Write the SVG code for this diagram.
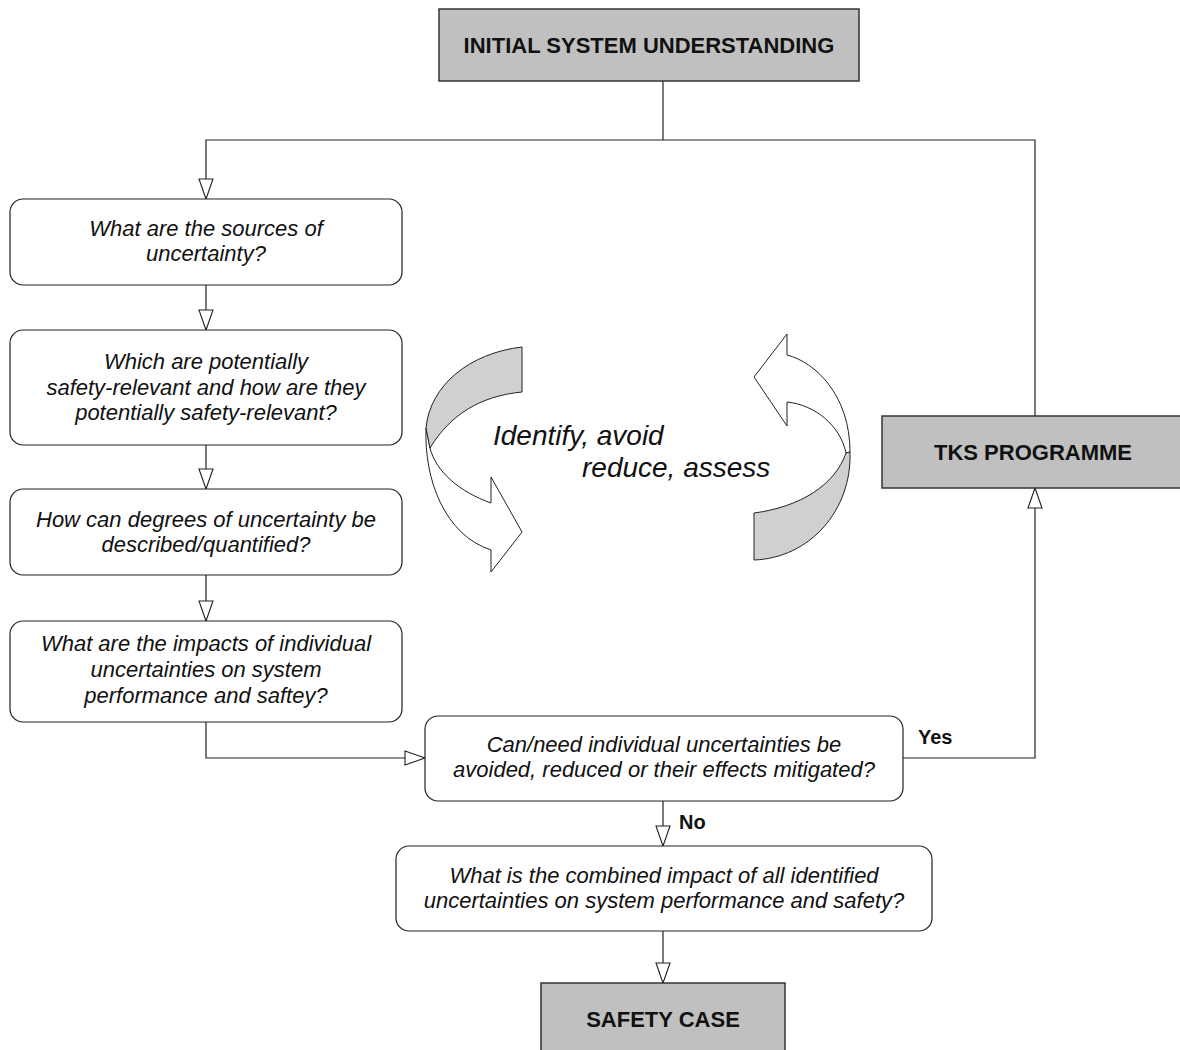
<svg xmlns="http://www.w3.org/2000/svg" width="1180" height="1050" viewBox="0 0 1180 1050">
<style>
.q{fill:#fff;stroke:#222;stroke-width:1.2}
.g{fill:#c0c0c0;stroke:#333;stroke-width:1.5}
.it{font-family:"Liberation Sans",Arial,sans-serif;font-style:italic;font-size:22px;fill:#111;text-anchor:middle}
.b{font-family:"Liberation Sans",Arial,sans-serif;font-weight:bold;font-size:22px;fill:#111;text-anchor:middle}
.lb{font-family:"Liberation Sans",Arial,sans-serif;font-weight:bold;font-size:20px;fill:#111}
.c{fill:none;stroke:#222;stroke-width:1.2}
.band{stroke:#222;stroke-width:1}
</style>
<defs>
<marker id="arr" viewBox="0 0 20 14" refX="20" refY="7" markerWidth="20" markerHeight="14" orient="auto" markerUnits="userSpaceOnUse" overflow="visible">
<path d="M0,0 L20,7 L0,14 Z" fill="#fff" stroke="#222" stroke-width="1.1"/>
</marker>
</defs>
<rect width="1180" height="1050" fill="#fff"/>
<g id="connectors">
<path class="c" d="M663,81 V140"/>
<path class="c" d="M1035,416 V140 H206 V199" marker-end="url(#arr)"/>
<path class="c" d="M206,285 V330" marker-end="url(#arr)"/>
<path class="c" d="M206,445 V489" marker-end="url(#arr)"/>
<path class="c" d="M206,575 V621" marker-end="url(#arr)"/>
<path class="c" d="M206,722 V758 H425" marker-end="url(#arr)"/>
<path class="c" d="M903,758 H1035 V488" marker-end="url(#arr)"/>
<path class="c" d="M663,801 V846" marker-end="url(#arr)"/>
<path class="c" d="M663,931 V983" marker-end="url(#arr)"/>
<text class="lb" x="918" y="744">Yes</text>
<text class="lb" x="679" y="829">No</text>
</g>
<g id="initial">
<rect class="g" x="439" y="9" width="420" height="72"/>
<text class="b" x="649" y="53">INITIAL SYSTEM UNDERSTANDING</text>
</g>
<g id="tks">
<rect class="g" x="882" y="416" width="300" height="72"/>
<text class="b" x="1033" y="460">TKS PROGRAMME</text>
</g>
<g id="q1">
<rect class="q" x="10" y="199" width="392" height="86" rx="13"/>
<text class="it" x="206" y="236">What are the sources of</text>
<text class="it" x="206" y="261">uncertainty?</text>
</g>
<g id="q2">
<rect class="q" x="10" y="330" width="392" height="115" rx="13"/>
<text class="it" x="206" y="369">Which are potentially</text>
<text class="it" x="206" y="395">safety-relevant and how are they</text>
<text class="it" x="206" y="420">potentially safety-relevant?</text>
</g>
<g id="q3">
<rect class="q" x="10" y="489" width="392" height="86" rx="13"/>
<text class="it" x="206" y="527">How can degrees of uncertainty be</text>
<text class="it" x="206" y="552">described/quantified?</text>
</g>
<g id="q4">
<rect class="q" x="10" y="621" width="392" height="101" rx="13"/>
<text class="it" x="206" y="651">What are the impacts of individual</text>
<text class="it" x="206" y="677">uncertainties on system</text>
<text class="it" x="206" y="703">performance and saftey?</text>
</g>
<g id="q5">
<rect class="q" x="425" y="716" width="478" height="85" rx="13"/>
<text class="it" x="664" y="752">Can/need individual uncertainties be</text>
<text class="it" x="664" y="777">avoided, reduced or their effects mitigated?</text>
</g>
<g id="q6">
<rect class="q" x="396" y="846" width="536" height="85" rx="13"/>
<text class="it" x="664" y="883">What is the combined impact of all identified</text>
<text class="it" x="664" y="908">uncertainties on system performance and safety?</text>
</g>
<g id="safety">
<rect class="g" x="541" y="983" width="244" height="80"/>
<text class="b" x="663" y="1027">SAFETY CASE</text>
</g>
<g id="cycle">
<path class="band" fill="#fff" d="M426,428 C424,480 445,535 491,550 L491,572 L522,532 L491,477 L491,503 C460,492 436,472 430,448 Z"/>
<path class="band" fill="#d0d0d0" d="M522,347 C470,353 430,385 426,428 L430,448 C450,415 480,396 522,392 Z"/>
<path class="band" fill="#fff" d="M754,377 L787,334 L787,355 C815,362 850,395 850,452 L846,453 C840,425 815,405 787,402 L787,426 Z"/>
<path class="band" fill="#d0d0d0" d="M850,452 C852,510 810,558 754,560 L754,513 C800,507 835,485 846,453 Z"/>
<text class="it" style="font-size:28px;text-anchor:start" x="493" y="445">Identify, avoid</text>
<text class="it" style="font-size:28px;text-anchor:start" x="582" y="477">reduce, assess</text>
</g>
</svg>
